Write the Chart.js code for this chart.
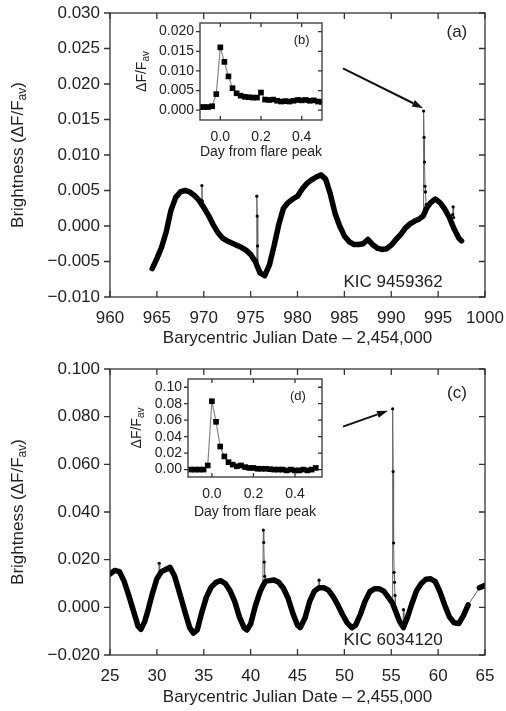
<!DOCTYPE html>
<html>
<head>
<meta charset="utf-8">
<script src="https://cdn.jsdelivr.net/npm/chart.js@4.4.0/dist/chart.umd.min.js"></script>
<style>
  body { margin: 0; background: #fff; width: 506px; height: 711px; position: relative; overflow: hidden; }
  canvas { position: absolute; }
</style>
</head>
<body>
<canvas id="mainA" width="506" height="355" style="left:0;top:0"></canvas>
<canvas id="insetB" width="220" height="155" style="left:110px;top:10px"></canvas>
<canvas id="mainC" width="506" height="356" style="left:0;top:355px"></canvas>
<canvas id="insetD" width="230" height="160" style="left:100px;top:366px"></canvas>
<script>
'use strict';

// KIC 9459362 light curve (days - 2,454,000)
const daysA = [964.5, 965.0, 965.5, 966.0, 966.5, 967.0, 967.5, 968.0, 968.5, 969.0,
  969.5, 970.0, 970.5, 971.0, 971.5, 972.0, 972.5, 973.0, 973.5, 974.0,
  974.5, 975.0, 975.5, 976.0, 976.5, 977.0, 977.5, 978.0, 978.5, 979.0,
  979.5, 980.0, 980.5, 981.0, 981.5, 982.0, 982.5, 983.0, 983.5, 984.0,
  984.5, 985.0, 985.5, 986.0, 986.5, 987.0, 987.5, 988.0, 988.5, 989.0,
  989.5, 990.0, 990.5, 991.0, 991.5, 992.0, 992.5, 993.0, 993.4, 993.8,
  994.2, 994.7, 995.2, 995.7, 996.2, 996.7, 997.2, 997.5];
const fluxA = [-0.0060, -0.0046, -0.0030, -0.0008, 0.0022, 0.0040, 0.0048, 0.0050, 0.0048, 0.0043,
  0.0036, 0.0026, 0.0015, 0.0002, -0.0009, -0.0017, -0.0021, -0.0024, -0.0027, -0.0030,
  -0.0034, -0.0040, -0.0050, -0.0066, -0.0070, -0.0055, -0.0028, 0.0002, 0.0025, 0.0033,
  0.0038, 0.0042, 0.0052, 0.0060, 0.0065, 0.0069, 0.0072, 0.0066, 0.0045, 0.0018,
  0.0000, -0.0014, -0.0022, -0.0026, -0.0026, -0.0025, -0.0019, -0.0026, -0.0031, -0.0033,
  -0.0032, -0.0027, -0.0019, -0.0012, -0.0003, 0.0003, 0.0007, 0.0010, 0.0014, 0.0026,
  0.0033, 0.0038, 0.0033, 0.0024, 0.0012, -0.0004, -0.0017, -0.0021];
// Flares / Ausreisser (null trennt die Stuecke)
const spikeDaysA = [969.75, 969.8, 969.85, 969.9, 975.62, 975.66, 975.7, 975.74, 975.78, 975.8,
  993.40, 993.45, 993.5, 993.55, 993.6, 993.65, 993.72, 993.8, 996.55, 996.6, 996.65];
const spikeFluxA = [0.0036, 0.0057, 0.0035, null, -0.0048, 0.0042, 0.0014, -0.0028, -0.0058, null,
  0.0014, 0.0162, 0.0125, 0.0090, 0.0056, 0.0048, 0.0030, null, 0.0016, 0.0027, 0.0012];

// KIC 6034120 light curve (days - 2,455,000)
const daysC = [25.0, 25.5, 26.0, 26.5, 27.0, 27.5, 28.0, 28.3, 28.7, 29.0,
  29.5, 30.0, 30.5, 31.0, 31.4, 31.9, 32.5, 33.0, 33.5, 33.9,
  34.3, 34.8, 35.3, 35.8, 36.3, 36.8, 37.3, 37.8, 38.3, 38.8,
  39.3, 39.6, 40.0, 40.5, 41.0, 41.3, 41.6, 42.0, 42.5, 43.0,
  43.5, 44.0, 44.5, 45.0, 45.3, 45.8, 46.3, 46.8, 47.3, 47.8,
  48.3, 48.8, 49.3, 49.8, 50.3, 50.8, 51.2, 51.7, 52.2, 52.7,
  53.2, 53.7, 54.2, 54.7, 55.1, 55.5, 55.9, 56.3, 56.7, 57.2,
  57.7, 58.2, 58.7, 59.2, 59.7, 60.2, 60.7, 61.2, 61.7, 62.2,
  62.7, 63.2, 63.8, 64.4, 65.0];
const fluxC = [0.0140, 0.0155, 0.0150, 0.0110, 0.0050, -0.0015, -0.0080, -0.0092, -0.0060, -0.0020,
  0.0055, 0.0120, 0.0150, 0.0160, 0.0168, 0.0130, 0.0050, -0.0020, -0.0085, -0.0108,
  -0.0095, -0.0020, 0.0045, 0.0085, 0.0105, 0.0112, 0.0100, 0.0070, 0.0025, -0.0040,
  -0.0085, -0.0095, -0.0070, 0.0005, 0.0065, 0.0090, 0.0110, 0.0112, 0.0115, 0.0105,
  0.0080, 0.0038, -0.0025, -0.0075, -0.0085, -0.0045, 0.0025, 0.0068, 0.0082, 0.0082,
  0.0072, 0.0045, 0.0010, -0.0030, -0.0065, -0.0085, -0.0075, -0.0030, 0.0025, 0.0065,
  0.0078, 0.0078, 0.0068, 0.0042, 0.0020, -0.0020, -0.0060, -0.0085, -0.0045, 0.0015,
  0.0070, 0.0100, 0.0118, 0.0120, 0.0108, 0.0065, 0.0010, -0.0040, -0.0065, -0.0068,
  -0.0035, 0.0010, null, 0.0082, 0.0092];
const spikeDaysC = [30.2, 30.25, 30.3, 30.35, 41.3, 41.35, 41.4, 41.45, 41.5, 41.56, 41.6,
  47.25, 47.3, 47.35, 47.4, 55.1, 55.15, 55.2, 55.25, 55.3, 55.35, 55.4, 55.45, 55.5,
  56.25, 56.3, 56.35, 56.4, 63.2, 64.4];
const spikeFluxC = [0.0135, 0.0185, 0.0140, null, 0.0090, 0.0324, 0.0272, 0.0190, 0.0130, 0.0110, null,
  0.0080, 0.0114, 0.0082, null, 0.0020, 0.0833, 0.0570, 0.0270, 0.0147, 0.0105, 0.0050, 0.0000, null,
  -0.0080, -0.0010, -0.0075, null, 0.0010, 0.0082];

// Insets: Tage ab Flare-Maximum
const insetDaysB = [-0.10, -0.08, -0.06, -0.04, -0.02, 0.00, 0.02, 0.04, 0.06, 0.08,
  0.10, 0.12, 0.14, 0.16, 0.18, 0.20, 0.22, 0.24, 0.26, 0.28,
  0.30, 0.32, 0.34, 0.36, 0.38, 0.40, 0.42, 0.44, 0.46, 0.48, 0.50];
const insetFluxB = [0.0008, 0.0008, 0.0008, 0.0010, 0.0041, 0.0160, 0.0123, 0.0086, 0.0056, 0.0043,
  0.0037, 0.0034, 0.0033, 0.0032, 0.0032, 0.0045, 0.0027, 0.0026, 0.0027, 0.0024,
  0.0022, 0.0023, 0.0022, 0.0024, 0.0026, 0.0025, 0.0026, 0.0024, 0.0025, 0.0022, 0.0021];
const insetDaysD = [-0.10, -0.08, -0.06, -0.04, -0.02, 0.00, 0.02, 0.04, 0.06, 0.08,
  0.10, 0.12, 0.14, 0.16, 0.18, 0.20, 0.22, 0.24, 0.26, 0.28,
  0.30, 0.32, 0.34, 0.36, 0.38, 0.40, 0.42, 0.44, 0.46, 0.48, 0.50];
const insetFluxD = [0.000, 0.000, 0.000, 0.000, 0.005, 0.083, 0.058, 0.028, 0.016, 0.009,
  0.006, 0.004, 0.005, 0.003, 0.002, 0.002, 0.001, 0.001, 0.001, 0.0005,
  0.000, 0.000, 0.000, -0.001, 0.000, -0.001, -0.001, 0.000, -0.001, 0.000, 0.002];

// Achsenticks
const xTicksA = [960, 965, 970, 975, 980, 985, 990, 995, 1000];
const yTicksA = [-0.010, -0.005, 0.000, 0.005, 0.010, 0.015, 0.020, 0.025, 0.030];
const xTicksC = [25, 30, 35, 40, 45, 50, 55, 60, 65];
const yTicksC = [-0.020, 0.000, 0.020, 0.040, 0.060, 0.080, 0.100];
const xTicksInset = [0.0, 0.2, 0.4];
const yTicksB = [0.000, 0.005, 0.010, 0.015, 0.020];
const yTicksD = [0.00, 0.02, 0.04, 0.06, 0.08, 0.10];

const FONT = '"Liberation Sans", Arial, sans-serif';
const INK = '#222';
Chart.defaults.font.family = FONT;
Chart.defaults.color = INK;

const pts = (xs, ys) => xs.map((x, i) => ({ x, y: ys[i] }));
const fmt = digits => v => (v < -1e-9 ? '\u2212' : '') + Math.abs(v).toFixed(digits);

// Rahmen mit Ticks (links nach aussen, sonst nach innen)
const frame = {
  id: 'frame',
  beforeDatasetsDraw(chart, args, opts) {
    if (!opts.fill) return;
    const { ctx, chartArea: a } = chart;
    ctx.save();
    ctx.fillStyle = '#fff';
    ctx.fillRect(a.left, a.top, a.right - a.left, a.bottom - a.top);
    ctx.restore();
  },
  afterDraw(chart, args, opts) {
    const { ctx, chartArea: a, scales: { x, y } } = chart;
    const t = opts.tick;
    ctx.save();
    ctx.strokeStyle = '#333';
    ctx.lineWidth = 1.3;
    ctx.strokeRect(a.left, a.top, a.right - a.left, a.bottom - a.top);
    ctx.beginPath();
    x.ticks.forEach(tk => {
      const px = x.getPixelForValue(tk.value);
      ctx.moveTo(px, a.bottom); ctx.lineTo(px, a.bottom - t);
      ctx.moveTo(px, a.top); ctx.lineTo(px, a.top + t);
    });
    y.ticks.forEach(tk => {
      const py = y.getPixelForValue(tk.value);
      ctx.moveTo(a.left - t, py); ctx.lineTo(a.left, py);
      ctx.moveTo(a.right, py); ctx.lineTo(a.right - t, py);
    });
    ctx.stroke();
    ctx.restore();
  },
};

// Beschriftungen, Pfeile und y-Titel mit Index
const notes = {
  id: 'notes',
  afterDraw(chart, args, o) {
    const { ctx, chartArea: a, scales: { x, y } } = chart;
    ctx.save();
    ctx.fillStyle = INK;
    ctx.strokeStyle = '#111';
    (o.labels || []).forEach(l => {
      ctx.font = `${l.size}px ${FONT}`;
      ctx.textAlign = 'center';
      ctx.textBaseline = 'middle';
      ctx.fillText(l.text, x.getPixelForValue(l.x), y.getPixelForValue(l.y));
    });
    (o.arrows || []).forEach(([x1, y1, x2, y2]) => {
      const p1 = [x.getPixelForValue(x1), y.getPixelForValue(y1)];
      const p2 = [x.getPixelForValue(x2), y.getPixelForValue(y2)];
      const ang = Math.atan2(p2[1] - p1[1], p2[0] - p1[0]);
      const len = 11, w = 3.5;
      const bx = p2[0] - len * Math.cos(ang), by = p2[1] - len * Math.sin(ang);
      ctx.lineWidth = 2;
      ctx.beginPath();
      ctx.moveTo(p1[0], p1[1]);
      ctx.lineTo(bx, by);
      ctx.stroke();
      ctx.beginPath();
      ctx.moveTo(p2[0], p2[1]);
      ctx.lineTo(bx - w * Math.sin(ang), by + w * Math.cos(ang));
      ctx.lineTo(bx + w * Math.sin(ang), by - w * Math.cos(ang));
      ctx.closePath();
      ctx.fillStyle = '#111';
      ctx.fill();
    });
    if (o.yTitle) {
      const t = o.yTitle;
      ctx.fillStyle = INK;
      ctx.translate(t.x, (a.top + a.bottom) / 2);
      ctx.rotate(-Math.PI / 2);
      ctx.textAlign = 'left';
      ctx.textBaseline = 'middle';
      ctx.font = `${t.size}px ${FONT}`;
      const w1 = ctx.measureText(t.main).width;
      const w3 = ctx.measureText(t.tail).width;
      ctx.font = `${t.subSize}px ${FONT}`;
      const w2 = ctx.measureText(t.sub).width;
      const s = -(w1 + w2 + w3) / 2;
      ctx.font = `${t.size}px ${FONT}`;
      ctx.fillText(t.main, s, 0);
      ctx.font = `${t.subSize}px ${FONT}`;
      ctx.fillText(t.sub, s + w1, t.size * 0.3);
      ctx.font = `${t.size}px ${FONT}`;
      ctx.fillText(t.tail, s + w1 + w2, 0);
    }
    ctx.restore();
  },
};

// feste Achsenbreite/-hoehe, keine Zusatzraender fuer ueberstehende Labels
function fixed(size, horizontal) {
  return s => {
    if (horizontal) s.height = size; else s.width = size;
    s.paddingLeft = s.paddingRight = s.paddingTop = s.paddingBottom = 0;
  };
}

function scale(min, max, vals, format, size, pad, fit) {
  return {
    type: 'linear', min, max,
    grid: { display: false, drawTicks: false },
    border: { display: false },
    afterBuildTicks: s => { s.ticks = vals.map(v => ({ value: v })); },
    afterFit: fit,
    ticks: { callback: format, font: { size }, padding: pad, autoSkip: false, maxRotation: 0, color: INK },
  };
}

function makeChart(id, cfg) {
  return new Chart(document.getElementById(id), {
    type: 'scatter',
    data: { datasets: cfg.datasets },
    options: {
      responsive: false,
      animation: false,
      events: [],
      layout: { padding: cfg.padding },
      plugins: {
        legend: { display: false },
        tooltip: { enabled: false },
        frame: cfg.frame,
        notes: cfg.notes,
      },
      scales: { x: cfg.x, y: cfg.y },
    },
    plugins: [frame, notes],
  });
}

const curve = data => ({
  data, showLine: true, borderColor: '#000', borderWidth: 5.5, pointRadius: 0,
  borderJoinStyle: 'round', borderCapStyle: 'round', spanGaps: false,
});
const spikes = data => ({
  data, showLine: true, borderColor: '#666', borderWidth: 1, pointRadius: 1.6,
  pointBackgroundColor: '#000', pointBorderWidth: 0, spanGaps: false,
});
const inset = data => ({
  data, showLine: true, borderColor: '#888', borderWidth: 1.2, pointStyle: 'rect',
  pointRadius: 4, pointBackgroundColor: '#000', pointBorderWidth: 0,
});

const mainTitle = { main: 'Brightness (\u0394F/F', sub: 'av', tail: ')', size: 17, subSize: 12, x: 18 };

// Panel (a)
const xA = scale(960, 1000, xTicksA, v => String(v), 17, 11, fixed(58, true));
xA.title = { display: true, text: 'Barycentric Julian Date \u2013 2,454,000', font: { size: 17 }, padding: { top: 0, bottom: 6 }, color: INK };
makeChart('mainA', {
  padding: { left: 0, right: 21, top: 13, bottom: 0 },
  x: xA,
  y: scale(-0.010, 0.030, yTicksA, fmt(3), 17, 10, fixed(110, false)),
  frame: { tick: 6 },
  notes: {
    labels: [
      { text: '(a)', x: 997.0, y: 0.0273, size: 17 },
      { text: 'KIC 9459362', x: 990.2, y: -0.0079, size: 17 },
    ],
    arrows: [[984.85, 0.0222, 993.4, 0.0166]],
    yTitle: mainTitle,
  },
  datasets: [curve(pts(daysA, fluxA)), spikes(pts(spikeDaysA, spikeFluxA))],
});

// Inset (b)
const xB = scale(-0.1, 0.5, xTicksInset, fmt(1), 14, 9, fixed(45, true));
xB.title = { display: true, text: 'Day from flare peak', font: { size: 14 }, padding: { top: 0, bottom: 4 }, color: INK };
makeChart('insetB', {
  padding: { left: 0, right: 8, top: 13, bottom: 0 },
  x: xB,
  y: scale(-0.0025, 0.0222, yTicksB, fmt(3), 14, 6, fixed(90, false)),
  frame: { tick: 4, fill: true },
  notes: {
    labels: [{ text: '(b)', x: 0.40, y: 0.0177, size: 13 }],
    yTitle: { main: '\u0394F/F', sub: 'av', tail: '', size: 14, subSize: 10, x: 32 },
  },
  datasets: [inset(pts(insetDaysB, insetFluxB))],
});

// Panel (c)
const xC = scale(25, 65, xTicksC, v => String(v), 17, 11, fixed(56, true));
xC.title = { display: true, text: 'Barycentric Julian Date \u2013 2,455,000', font: { size: 17 }, padding: { top: 0, bottom: 3 }, color: INK };
makeChart('mainC', {
  padding: { left: 0, right: 21, top: 14, bottom: 0 },
  x: xC,
  y: scale(-0.020, 0.100, yTicksC, fmt(3), 17, 10, fixed(110, false)),
  frame: { tick: 6 },
  notes: {
    labels: [
      { text: '(c)', x: 62.0, y: 0.0897, size: 17 },
      { text: 'KIC 6034120', x: 55.2, y: -0.0139, size: 17 },
    ],
    arrows: [[49.85, 0.0758, 54.65, 0.0825]],
    yTitle: mainTitle,
  },
  datasets: [curve(pts(daysC, fluxC)), spikes(pts(spikeDaysC, spikeFluxC))],
});

// Inset (d)
const xD = scale(-0.115, 0.53, xTicksInset, fmt(1), 14, 9, fixed(49, true));
xD.title = { display: true, text: 'Day from flare peak', font: { size: 14 }, padding: { top: 0, bottom: 5 }, color: INK };
makeChart('insetD', {
  padding: { left: 0, right: 8, top: 13, bottom: 0 },
  x: xD,
  y: scale(-0.009, 0.110, yTicksD, fmt(2), 14, 6, fixed(88, false)),
  frame: { tick: 4, fill: true },
  notes: {
    labels: [{ text: '(d)', x: 0.414, y: 0.0885, size: 13 }],
    yTitle: { main: '\u0394F/F', sub: 'av', tail: '', size: 14, subSize: 10, x: 37 },
  },
  datasets: [inset(pts(insetDaysD, insetFluxD))],
});
</script>
</body>
</html>
